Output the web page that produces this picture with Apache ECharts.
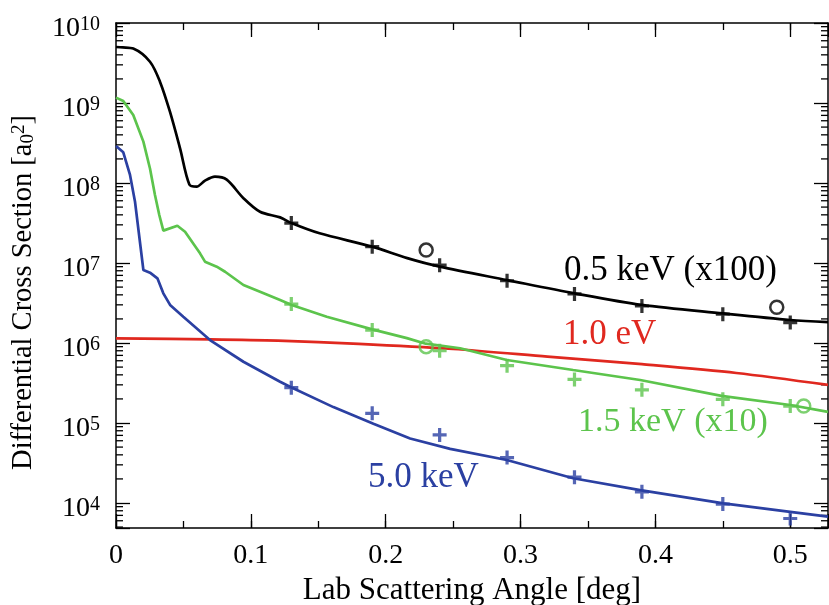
<!DOCTYPE html>
<html><head><meta charset="utf-8">
<script src="https://cdn.jsdelivr.net/npm/echarts@6/dist/echarts.min.js"></script>
<style>html,body{margin:0;padding:0;background:#fff}#c{width:829px;height:605px}</style>
</head><body><div id="c"></div>
<script>
const FONT = 'Liberation Serif';

// ---- data (x = lab scattering angle [deg], y = differential cross section [a0^2]) ----
const black05_x = [0, 0.005, 0.0128, 0.0252, 0.0326, 0.040, 0.0475, 0.0544, 0.0598, 0.066, 0.0734, 0.0821, 0.0945, 0.1068, 0.1217, 0.13, 0.151, 0.19, 0.216, 0.24, 0.29, 0.34, 0.39, 0.45, 0.50, 0.528];
const black05_y = [5.01e9, 4.95e9, 4.79e9, 3.28e9, 1.85e9, 7.78e8, 2.71e8, 9.6e7, 9.0e7, 1.07e8, 1.2e8, 1.10e8, 6.46e7, 4.37e7, 3.72e7, 3.16e7, 2.35e7, 1.6e7, 1.15e7, 9.0e6, 6.12e6, 4.18e6, 2.99e6, 2.34e6, 1.94e6, 1.82e6];

const red10_x = [0, 0.07, 0.12, 0.18, 0.25, 0.32, 0.39, 0.46, 0.528];
const red10_y = [1.143e6, 1.11e6, 1.07e6, 9.77e5, 8.41e5, 6.76e5, 5.43e5, 4.22e5, 2.99e5];

const green15_x = [0, 0.0054, 0.0128, 0.0203, 0.0252, 0.0289, 0.0321, 0.0351, 0.0455, 0.0512, 0.0623, 0.066, 0.0747, 0.0809, 0.0945, 0.1068, 0.1217, 0.1303, 0.1563, 0.19, 0.2157, 0.2297, 0.2552, 0.2898, 0.339, 0.3887, 0.449, 0.5, 0.528];
const green15_y = [1.167e9, 1.06e9, 7.08e8, 3.29e8, 1.52e8, 7.08e7, 3.98e7, 2.54e7, 2.92e7, 2.46e7, 1.32e7, 1.04e7, 9.0e6, 7.78e6, 5.31e6, 4.38e6, 3.45e6, 2.99e6, 2.13e6, 1.48e6, 1.15e6, 9.8e5, 8.6e5, 6.13e5, 4.6e5, 3.45e5, 2.18e5, 1.68e5, 1.38e5];

const blue50_x = [0, 0.0054, 0.0104, 0.0141, 0.0203, 0.0252, 0.0307, 0.0351, 0.0401, 0.0499, 0.0697, 0.0945, 0.1217, 0.129, 0.1612, 0.1909, 0.2181, 0.2478, 0.2898, 0.339, 0.3887, 0.4505, 0.5, 0.528];
const blue50_y = [2.9e8, 2.42e8, 1.26e8, 5.83e7, 8.18e6, 7.57e6, 6.43e6, 4.18e6, 2.99e6, 2.13e6, 1.09e6, 5.83e5, 3.28e5, 2.84e5, 1.58e5, 9.8e4, 6.4e4, 4.75e4, 3.45e4, 2.04e4, 1.45e4, 9.9e3, 7.76e3, 6.76e3];

const plusAngles = [0.13, 0.19, 0.24, 0.29, 0.34, 0.39, 0.45, 0.50];
const plusBlack = [3.16e7, 1.6e7, 9.4e6, 6.0e6, 4.1e6, 2.9e6, 2.29e6, 1.8e6];
const plusGreen = [3.07e6, 1.45e6, 8.0e5, 5.2e5, 3.5e5, 2.6e5, 1.98e5, 1.63e5];
const plusBlue = [2.76e5, 1.32e5, 7.1e4, 3.7e4, 2.1e4, 1.38e4, 9.7e3, 6.4e3];

const circleBlack_x = [0.23, 0.49];
const circleBlack_y = [1.45e7, 2.8e6];
const circleGreen_x = [0.23, 0.51];
const circleGreen_y = [9.0e5, 1.63e5];

const xMin = 0, xMax = 0.528;
const yMin = 4870, yMax = 1e10;
const xTickLabels = ['0', '0.1', '0.2', '0.3', '0.4', '0.5'];

const labels = [
  {text: '0.5 keV (x100)', color: '#000000'},
  {text: '1.0 eV', color: '#e0281f'},
  {text: '1.5 keV (x10)', color: '#5cc44c'},
  {text: '5.0 keV', color: '#2b40a2'}
];
// -------------------------------------------------------------------------------

const C_BLACK = '#000000', C_RED = '#e0281f', C_GREEN = '#5cc44c', C_BLUE = '#2b40a2';
const zip = (xs, ys) => xs.map((x, i) => [x, ys[i]]);

// minor log ticks (2..9 x 10^n)
const minorVals = [];
for (let n = 3; n <= 9; n++) for (let k = 2; k <= 9; k++) {
  const v = k * Math.pow(10, n);
  if (v > yMin && v < yMax) minorVals.push([0, v]);
}

const PLUS = 'path://M5,0H8V5H13V8H8V13H5V8H0V5H5Z';

const tickStyle = {color: '#000', width: 1.3};
const lineStyleAxis = {color: '#000', width: 1.5};

function xAxisDef(pos, interval, len, withLabels, withLine) {
  const a = {
    type: 'value', position: pos, min: xMin, max: xMax, interval: interval,
    axisLine: {show: withLine, onZero: false, lineStyle: lineStyleAxis},
    axisTick: {show: true, inside: true, length: len, lineStyle: tickStyle},
    axisLabel: {show: withLabels},
    splitLine: {show: false}
  };
  if (withLabels) {
    a.axisLabel = {
      show: true, margin: 14, fontSize: 28, fontFamily: FONT, color: '#000',
      formatter: function (v) {
        const i = Math.round(v * 10);
        if (Math.abs(v * 10 - i) > 1e-6) return '';
        return xTickLabels[i] !== undefined ? xTickLabels[i] : '';
      }
    };
    a.name = 'Lab Scattering Angle [deg]';
    a.nameLocation = 'middle';
    a.nameGap = 46;
    a.nameTextStyle = {fontSize: 31, fontFamily: FONT, color: '#000'};
  }
  return a;
}

const yLabelFmt = function (v) {
  const l = Math.log10(v);
  const e = Math.round(l);
  if (Math.abs(l - e) > 1e-6) return '';
  return '{b|10}{s|' + e + '}';
};

const option = {
  animation: false,
  backgroundColor: '#fff',
  grid: {left: 116, top: 23, width: 712, height: 505, containLabel: false, outerBoundsMode: 'none'},
  xAxis: [
    xAxisDef('bottom', 0.1, 14, true, true),
    xAxisDef('bottom', 0.05, 7, false, false),
    xAxisDef('top', 0.1, 14, false, true),
    xAxisDef('top', 0.05, 7, false, false)
  ],
  yAxis: [
    {
      type: 'log', position: 'left', min: yMin, max: yMax, logBase: 10,
      axisLine: {show: true, onZero: false, lineStyle: lineStyleAxis},
      axisTick: {show: true, inside: true, length: 14, lineStyle: tickStyle},
      splitLine: {show: false},
      axisLabel: {
        show: true, margin: 16, formatter: yLabelFmt, color: '#000', padding: [12, 0, 0, 0],
        rich: {
          b: {fontSize: 28, fontFamily: FONT, color: '#000', lineHeight: 28, verticalAlign: 'bottom'},
          s: {fontSize: 20, fontFamily: FONT, color: '#000', lineHeight: 20, verticalAlign: 'top', padding: [0, 0, 12, 0]}
        }
      },
      name: 'Differential Cross Section [a{sub|0}{sup|2}]',
      nameLocation: 'middle', nameGap: 78, nameRotate: 90,
      nameTextStyle: {
        fontSize: 28.5, fontFamily: FONT, color: '#000', lineHeight: 28, padding: [0, 34, 0, 0],
        rich: {
          sub: {fontSize: 19, fontFamily: FONT, color: '#000', lineHeight: 19, verticalAlign: 'bottom', padding: [8, 0, 0, 0]},
          sup: {fontSize: 19, fontFamily: FONT, color: '#000', lineHeight: 19, verticalAlign: 'top', padding: [0, 0, 8, 0]}
        }
      }
    },
    {
      type: 'log', position: 'right', min: yMin, max: yMax, logBase: 10,
      axisLine: {show: true, onZero: false, lineStyle: lineStyleAxis},
      axisTick: {show: true, inside: true, length: 14, lineStyle: tickStyle},
      splitLine: {show: false},
      axisLabel: {show: false}
    }
  ],
  graphic: [
    {type: 'text', style: {text: labels[0].text, x: 564, y: 271, align: 'left', verticalAlign: 'middle', font: '35px "Liberation Serif"', fill: labels[0].color}},
    {type: 'text', style: {text: labels[1].text, x: 563, y: 335, align: 'left', verticalAlign: 'middle', font: '35px "Liberation Serif"', fill: labels[1].color}},
    {type: 'text', style: {text: labels[2].text, x: 578, y: 422, align: 'left', verticalAlign: 'middle', font: '34px "Liberation Serif"', fill: labels[2].color}},
    {type: 'text', style: {text: labels[3].text, x: 368, y: 478, align: 'left', verticalAlign: 'middle', font: '35px "Liberation Serif"', fill: labels[3].color}}
  ],
  series: [
    {type: 'custom', xAxisIndex: 0, yAxisIndex: 0, silent: true, clip: false, z: 1,
      data: minorVals,
      renderItem: function (params, api) {
        const v = api.value(1);
        const pl = api.coord([xMin, v]);
        const pr = api.coord([xMax, v]);
        return {type: 'group', children: [
          {type: 'line', shape: {x1: pl[0], y1: pl[1], x2: pl[0] + 7, y2: pl[1]}, style: {stroke: '#000', lineWidth: 1.3}},
          {type: 'line', shape: {x1: pr[0] - 7, y1: pr[1], x2: pr[0], y2: pr[1]}, style: {stroke: '#000', lineWidth: 1.3}}
        ]};
      }
    },
    {name: '0.5 keV (x100)', type: 'line', data: zip(black05_x, black05_y), symbol: 'none', smooth: 0.3, lineStyle: {color: C_BLACK, width: 2.7}, z: 3},
    {name: '1.0 eV', type: 'line', data: zip(red10_x, red10_y), symbol: 'none', smooth: 0.3, lineStyle: {color: C_RED, width: 2.7}, z: 3},
    {name: '1.5 keV (x10)', type: 'line', data: zip(green15_x, green15_y), symbol: 'none', lineStyle: {color: C_GREEN, width: 2.7}, z: 3},
    {name: '5.0 keV', type: 'line', data: zip(blue50_x, blue50_y), symbol: 'none', lineStyle: {color: C_BLUE, width: 2.7}, z: 3},
    {type: 'scatter', data: zip(plusAngles, plusBlack), symbol: PLUS, symbolSize: 14, itemStyle: {color: C_BLACK}, z: 4},
    {type: 'scatter', data: zip(plusAngles, plusGreen), symbol: PLUS, symbolSize: 14, itemStyle: {color: C_GREEN}, z: 4},
    {type: 'scatter', data: zip(plusAngles, plusBlue), symbol: PLUS, symbolSize: 14, itemStyle: {color: C_BLUE}, z: 4},
    {type: 'scatter', data: zip(circleBlack_x, circleBlack_y), symbol: 'circle', symbolSize: 13, itemStyle: {color: 'rgba(0,0,0,0)', borderColor: C_BLACK, borderWidth: 2.5}, z: 4},
    {type: 'scatter', data: zip(circleGreen_x, circleGreen_y), symbol: 'circle', symbolSize: 13, itemStyle: {color: 'rgba(0,0,0,0)', borderColor: C_GREEN, borderWidth: 2.5}, z: 4}
  ]
};

const chart = echarts.init(document.getElementById('c'), null, {renderer: 'canvas'});
chart.setOption(option);
</script>
</body></html>
